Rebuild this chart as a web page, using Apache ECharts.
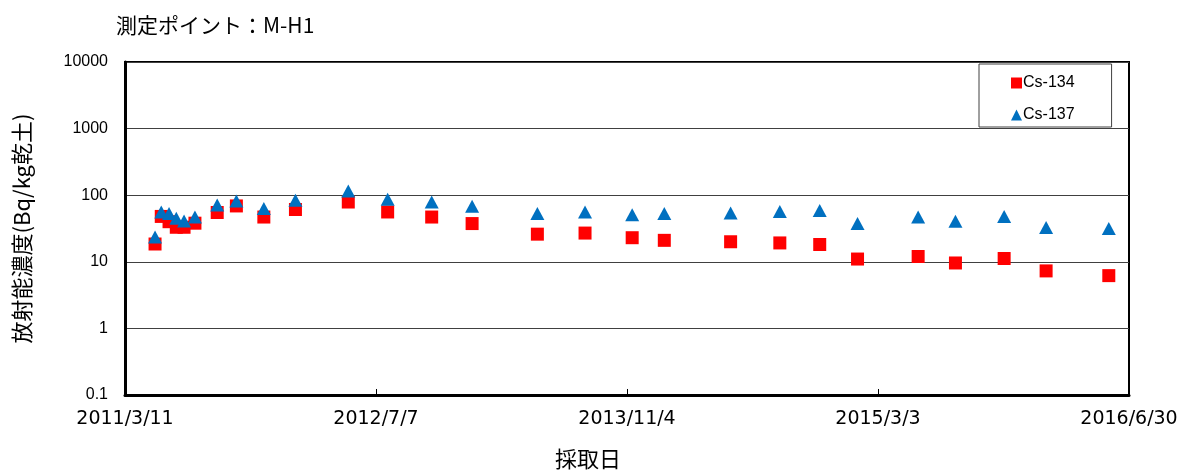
<!DOCTYPE html>
<html>
<head>
<meta charset="utf-8">
<script src="https://cdn.jsdelivr.net/npm/echarts@6/dist/echarts.min.js"></script>
<style>
  html, body { margin: 0; padding: 0; background: #fff; }
  #main { width: 1190px; height: 475px; }
</style>
</head>
<body>
<div id="main"></div>
<script>
// 採取日
const sampleDates = [
  '2011/5/8', '2011/5/20', '2011/6/4', '2011/6/18', '2011/7/3', '2011/7/24',
  '2011/9/5', '2011/10/12', '2011/12/4', '2012/2/3', '2012/5/15', '2012/7/30',
  '2012/10/23', '2013/1/9', '2013/5/15', '2013/8/15', '2013/11/14', '2014/1/15',
  '2014/5/23', '2014/8/26', '2014/11/11', '2015/1/23', '2015/5/20', '2015/7/31',
  '2015/11/2', '2016/1/22', '2016/5/22'
];
const cs134 = [
  18.5, 48, 40, 33, 33, 38, 55, 69, 47, 61, 79, 56,
  47, 37.5, 26, 27, 23, 21, 20, 19.2, 18.2, 11, 12, 9.6,
  11.2, 7.3, 6.2
];
const cs137 = [
  23.5, 56, 53, 45, 41, 47, 71, 82, 63, 84, 116, 87,
  79, 68, 53, 56, 51, 53, 54, 57, 59, 37.5, 47, 40.6,
  48, 32.7, 31.6
];
const xTickLabels = ['2011/3/11', '2012/7/7', '2013/11/4', '2015/3/3', '2016/6/30'];

const DAY = 86400000;
function parseDate(s) {
  const p = s.split('/').map(Number);
  return Date.UTC(p[0], p[1] - 1, p[2]);
}
const base = parseDate(xTickLabels[0]);
const end = parseDate(xTickLabels[xTickLabels.length - 1]);
const span = (end - base) / DAY; // 1938
const toDay = s => (parseDate(s) - base) / DAY;
function dayLabel(v) {
  const d = new Date(base + Math.floor(v + 1e-6) * DAY);
  return d.getUTCFullYear() + '/' + (d.getUTCMonth() + 1) + '/' + d.getUTCDate();
}

const jp = '"Noto Sans CJK JP", "Noto Sans", sans-serif';
const num = '"Liberation Sans", Arial, sans-serif';

var chart = echarts.init(document.getElementById('main'));
var option = {
  backgroundColor: '#ffffff',
  animation: false,
  title: {
    text: '測定ポイント：M-H1',
    left: 111,
    top: 10,
    textStyle: { fontFamily: jp, fontSize: 21, fontWeight: 'normal', color: '#000' }
  },
  legend: {
    orient: 'vertical',
    left: 979,
    top: 64,
    padding: [11, 37, 4, 32],
    itemGap: 16,
    itemWidth: 11,
    itemHeight: 11,
    borderColor: '#404040',
    borderWidth: 1,
    textStyle: { fontFamily: num, fontSize: 16, color: '#000', padding: [0, 0, 0, -4] },
    data: [
      { name: 'Cs-134', icon: 'rect' },
      { name: 'Cs-137', icon: 'triangle' }
    ]
  },
  grid: {
    left: 125,
    right: 61,
    top: 62,
    bottom: 80,
    show: true,
    borderColor: '#000',
    borderWidth: 2
  },
  xAxis: {
    type: 'value',
    min: 0,
    max: span,
    interval: span / 4,
    name: '採取日',
    nameLocation: 'middle',
    nameGap: 53,
    nameTextStyle: { fontFamily: jp, fontSize: 22, color: '#000', padding: [0, 78, 0, 0] },
    axisLine: { lineStyle: { color: '#000', width: 3 } },
    axisTick: { inside: true, length: 6, lineStyle: { color: '#000' } },
    axisLabel: {
      margin: 15,
      fontFamily: '"DejaVu Sans", sans-serif',
      fontSize: 19,
      color: '#000',
      formatter: dayLabel
    },
    splitLine: { show: false }
  },
  yAxis: {
    type: 'log',
    logBase: 10,
    min: 0.1,
    max: 10000,
    name: '放射能濃度(Bq/kg乾土)',
    nameLocation: 'middle',
    nameGap: 92,
    nameTextStyle: { fontFamily: jp, fontSize: 22, color: '#000' },
    axisLine: { lineStyle: { color: '#000', width: 3 } },
    axisTick: { show: false },
    axisLabel: {
      margin: 17,
      fontFamily: num,
      fontSize: 16,
      color: '#000',
      formatter: v => String(+v.toPrecision(3))
    },
    splitLine: { lineStyle: { color: '#404040', width: 1 } }
  },
  series: [
    {
      name: 'Cs-134',
      type: 'scatter',
      symbol: 'rect',
      symbolSize: 13,
      itemStyle: { color: '#ff0000', opacity: 1 },
      data: sampleDates.map((d, i) => [toDay(d), cs134[i]])
    },
    {
      name: 'Cs-137',
      type: 'scatter',
      symbol: 'triangle',
      symbolSize: [14, 13],
      itemStyle: { color: '#0070c0', opacity: 1 },
      data: sampleDates.map((d, i) => [toDay(d), cs137[i]])
    }
  ]
};
chart.setOption(option);
</script>
</body>
</html>
